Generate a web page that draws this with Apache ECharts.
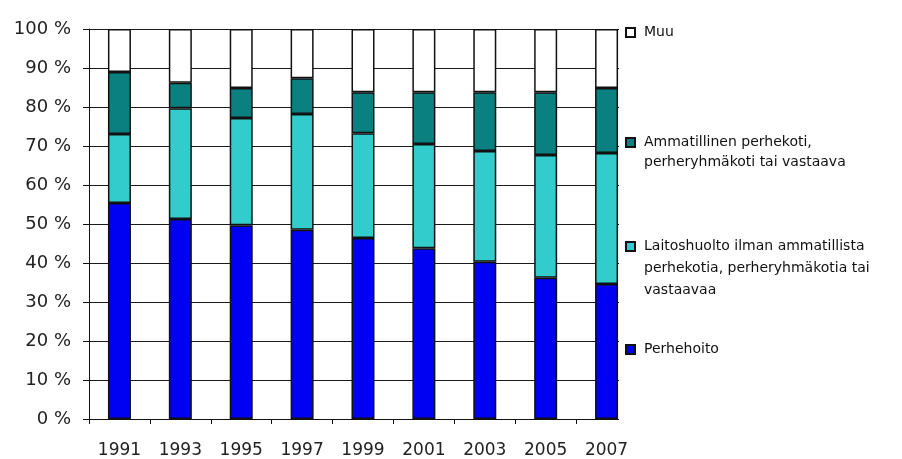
<!DOCTYPE html>
<html>
<head>
<meta charset="utf-8">
<script src="https://cdn.jsdelivr.net/npm/echarts@6/dist/echarts.min.js"></script>
<style>
  html, body { margin: 0; padding: 0; background: #fff; }
  #chart { width: 902px; height: 459px; }
</style>
</head>
<body>
<div id="chart"></div>
<script>
// years on the x axis
const years = ['1991', '1993', '1995', '1997', '1999', '2001', '2003', '2005', '2007'];

// shares in %
const perhehoito = [55.4, 51.3, 49.7, 48.5, 46.4, 43.8, 40.3, 36.2, 34.6];
const laitoshuolto = [17.7, 28.4, 27.5, 29.7, 26.9, 26.7, 28.4, 31.5, 33.6];
const ammatillinen = [15.9, 6.5, 7.7, 9.2, 10.5, 13.3, 15.1, 16.1, 16.7];
const muu = [11.0, 13.8, 15.1, 12.6, 16.2, 16.2, 16.2, 16.2, 15.1];

const names = {
  perhe: 'Perhehoito',
  laitos: 'Laitoshuolto ilman ammatillista\nperhekotia, perheryhmäkotia tai\nvastaavaa',
  ammat: 'Ammatillinen perhekoti,\nperheryhmäkoti tai vastaava',
  muu: 'Muu'
};

const font = 'DejaVu Sans';
const chart = echarts.init(document.getElementById('chart'));

const bar = (name, data, color) => ({
  name: name,
  type: 'bar',
  stack: 'total',
  barWidth: 23,
  data: data,
  itemStyle: { color: color, borderColor: '#111', borderWidth: 1.5 }
});

// one legend per entry so each can sit where the original has it.
// legend text is centred on the marker, so empty lines are put in front
// to bring the first line level with the marker (like excel does)
const legendItem = (name, top, lh, extra) => {
  const lines = name.split('\n').length;
  return Object.assign({
    data: [name],
    orient: 'vertical',
    left: 625,
    top: top,
    padding: 0,
    itemWidth: 9,
    itemHeight: 9,
    icon: 'rect',
    selectedMode: false,
    formatter: n => '\n'.repeat(lines - 1) + n,
    textStyle: {
      fontFamily: font,
      fontSize: 14,
      color: '#111',
      lineHeight: lh,
      padding: [0, 0, 0, 4]
    }
  }, extra || {});
};

chart.setOption({
  animation: false,
  backgroundColor: '#fff',
  grid: { left: 89, right: 265, top: 29, bottom: 40 },
  legend: [
    legendItem(names.muu, 16, 21, {
      left: 619,
      padding: [6, 300, 383, 6],
      backgroundColor: '#fff'
    }),
    legendItem(names.ammat, 112.5, 20),
    legendItem(names.laitos, 191.5, 22),
    legendItem(names.perhe, 339, 21)
  ],
  xAxis: {
    type: 'category',
    data: years,
    axisLine: { lineStyle: { color: '#111', width: 1 } },
    axisTick: { show: true, length: 5, lineStyle: { color: '#111' } },
    axisLabel: { fontFamily: font, fontSize: 17, color: '#222', margin: 23 }
  },
  yAxis: {
    type: 'value',
    min: 0,
    max: 100,
    interval: 10,
    axisLine: { show: true, lineStyle: { color: '#111', width: 1 } },
    axisTick: { show: true, length: 6, lineStyle: { color: '#111' } },
    axisLabel: {
      fontFamily: font, fontSize: 18, color: '#222', margin: 18,
      formatter: '{value} %'
    },
    splitLine: { lineStyle: { color: '#1a1a1a', width: 1 } }
  },
  series: [
    bar(names.perhe, perhehoito, '#0000f2'),
    bar(names.laitos, laitoshuolto, '#33cccc'),
    bar(names.ammat, ammatillinen, '#0a8080'),
    bar(names.muu, muu, '#ffffff')
  ]
});
</script>
</body>
</html>
